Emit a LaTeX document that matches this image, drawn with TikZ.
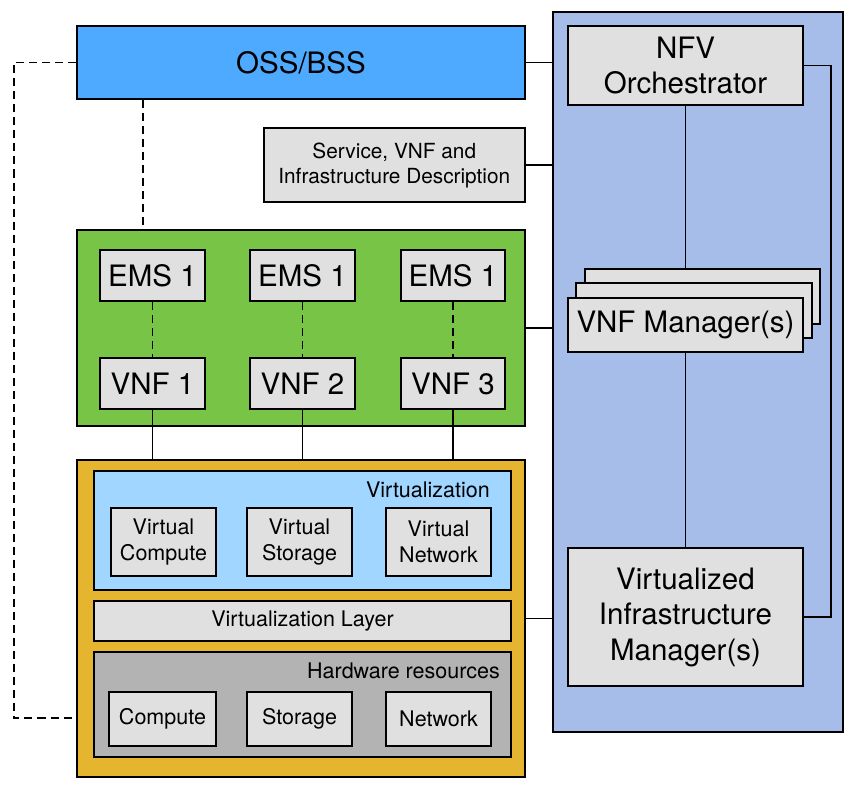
\documentclass[tikz,border=0pt]{standalone}
\usepackage{fontspec}
\setmainfont{TeX Gyre Heros}
\definecolor{ossblue}{RGB}{77,170,255}
\definecolor{vnfgreen}{RGB}{120,196,70}
\definecolor{nfviyellow}{RGB}{229,181,48}
\definecolor{virtblue}{RGB}{160,214,255}
\definecolor{manoblue}{RGB}{166,189,234}
\definecolor{boxgray}{RGB}{224,224,224}
\definecolor{hwgray}{RGB}{179,179,179}
\tikzset{
  frame/.style={draw=black, line width=2pt, rectangle, inner sep=0pt},
  bigbox/.style={frame, fill=boxgray, align=center, font=\fontsize{29.5}{35.5}\selectfont},
  smallbox/.style={frame, fill=boxgray, align=center, font=\fontsize{21.5}{26}\selectfont},
  conn/.style={draw=black, line width=1.7pt},
  dconn/.style={conn, dash pattern=on 8pt off 5pt},
  lbl/.style={font=\fontsize{21.5}{26}\selectfont, inner sep=0pt},
}
\begin{document}
\begin{tikzpicture}[x=1pt,y=-1pt]
\useasboundingbox (0,0) rectangle (854,789);
\fill[white] (0,0) rectangle (854,789);
% MANO panel
\node[frame, fill=manoblue, minimum width=290pt, minimum height=720pt] (panel) at (698,372) {};
% OSS/BSS
\node[frame, fill=ossblue, minimum width=448pt, minimum height=73pt, font=\fontsize{29.5}{35.5}\selectfont] (oss) at (301,62.5) {OSS/BSS};
% description
\node[smallbox, minimum width=261.4pt, minimum height=74pt, font=\fontsize{20.8}{25}\selectfont] (svc) at (394.3,165) {Service, VNF and\\Infrastructure Description};
% VNF area
\node[frame, fill=vnfgreen, minimum width=448pt, minimum height=196pt] (green) at (301,328) {};
\node[bigbox, minimum width=105pt, minimum height=51pt] (ems1) at (152.5,275.5) {EMS 1};
\node[bigbox, minimum width=105pt, minimum height=51pt] (ems2) at (302.5,275.5) {EMS 1};
\node[bigbox, minimum width=104pt, minimum height=51pt] (ems3) at (453,275.5) {EMS 1};
\node[bigbox, minimum width=105pt, minimum height=51pt] (vnf1) at (152.5,383.5) {VNF 1};
\node[bigbox, minimum width=105pt, minimum height=51pt] (vnf2) at (302.5,383.5) {VNF 2};
\node[bigbox, minimum width=104pt, minimum height=51pt] (vnf3) at (453,383.5) {VNF 3};
% NFVI
\node[frame, fill=nfviyellow, minimum width=448pt, minimum height=317pt] (nfvi) at (301,618.5) {};
\node[frame, fill=virtblue, minimum width=417pt, minimum height=119pt] (virt) at (302.5,530.5) {};
\node[lbl, anchor=east] (virtlbl) at (490,490) {Virtualization};
\node[smallbox, minimum width=105pt, minimum height=68pt] (vc) at (163.5,542) {Virtual\\Compute};
\node[smallbox, minimum width=105pt, minimum height=68pt] (vs) at (299.5,542) {Virtual\\Storage};
\node[smallbox, minimum width=105pt, minimum height=68pt] (vn) at (438.5,542) {Virtual\\Network};
\node[smallbox, minimum width=417pt, minimum height=40pt] (vlayer) at (302.5,621) {Virtualization Layer};
\node[frame, fill=hwgray, minimum width=417pt, minimum height=105pt] (hw) at (302.5,704.5) {};
\node[lbl, anchor=east] (hwlbl) at (500,671) {Hardware resources};
\node[smallbox, minimum width=107pt, minimum height=54pt] (hc) at (162.5,719) {Compute};
\node[smallbox, minimum width=105pt, minimum height=54pt] (hs) at (299.5,719) {Storage};
\node[smallbox, minimum width=105pt, minimum height=54pt] (hn) at (438.5,719) {Network};
% MANO boxes
\node[bigbox, minimum width=235pt, minimum height=79pt] (nfvo) at (685.5,65.5) {NFV\\Orchestrator};
\node[bigbox, minimum width=235pt, minimum height=55pt] (vnfmb) at (702.5,296.5) {};
\node[bigbox, minimum width=236pt, minimum height=55pt] (vnfmm) at (694,310.5) {};
\node[bigbox, minimum width=235pt, minimum height=54pt] (vnfm) at (685.5,325) {VNF Manager(s)};
\node[bigbox, minimum width=235pt, minimum height=138pt] (vim) at (685.5,617) {Virtualized\\Infrastructure\\Manager(s)};
% connectors
\draw[conn] (oss.east) -- (oss.east -| panel.west);
\draw[conn] (svc.east) -- (svc.east -| panel.west);
\draw[conn] (green.east) -- (green.east -| panel.west);
\draw[conn] (nfvi.east) -- (nfvi.east -| panel.west);
\draw[conn] (nfvo.south) -- (nfvo.south |- vnfmb.north);
\draw[conn] (vnfm.south) -- (vim.north);
\coordinate (rt) at (831,0);
\draw[conn] (nfvo.east) -- (nfvo.east -| rt) -- (vim.east -| rt) -- (vim.east);
\coordinate (dd) at (143,0);
\draw[dconn] (oss.south -| dd) -- (green.north -| dd);
\coordinate (lft) at (14,718);
\draw[dconn] (oss.west) -| (lft) -- (lft -| nfvi.west);
\foreach \i in {1,2,3} {
  \draw[dconn] (ems\i.south) -- (vnf\i.north);
  \draw[conn] (vnf\i.south) -- (vnf\i.south |- nfvi.north);
}
\end{tikzpicture}
\end{document}
